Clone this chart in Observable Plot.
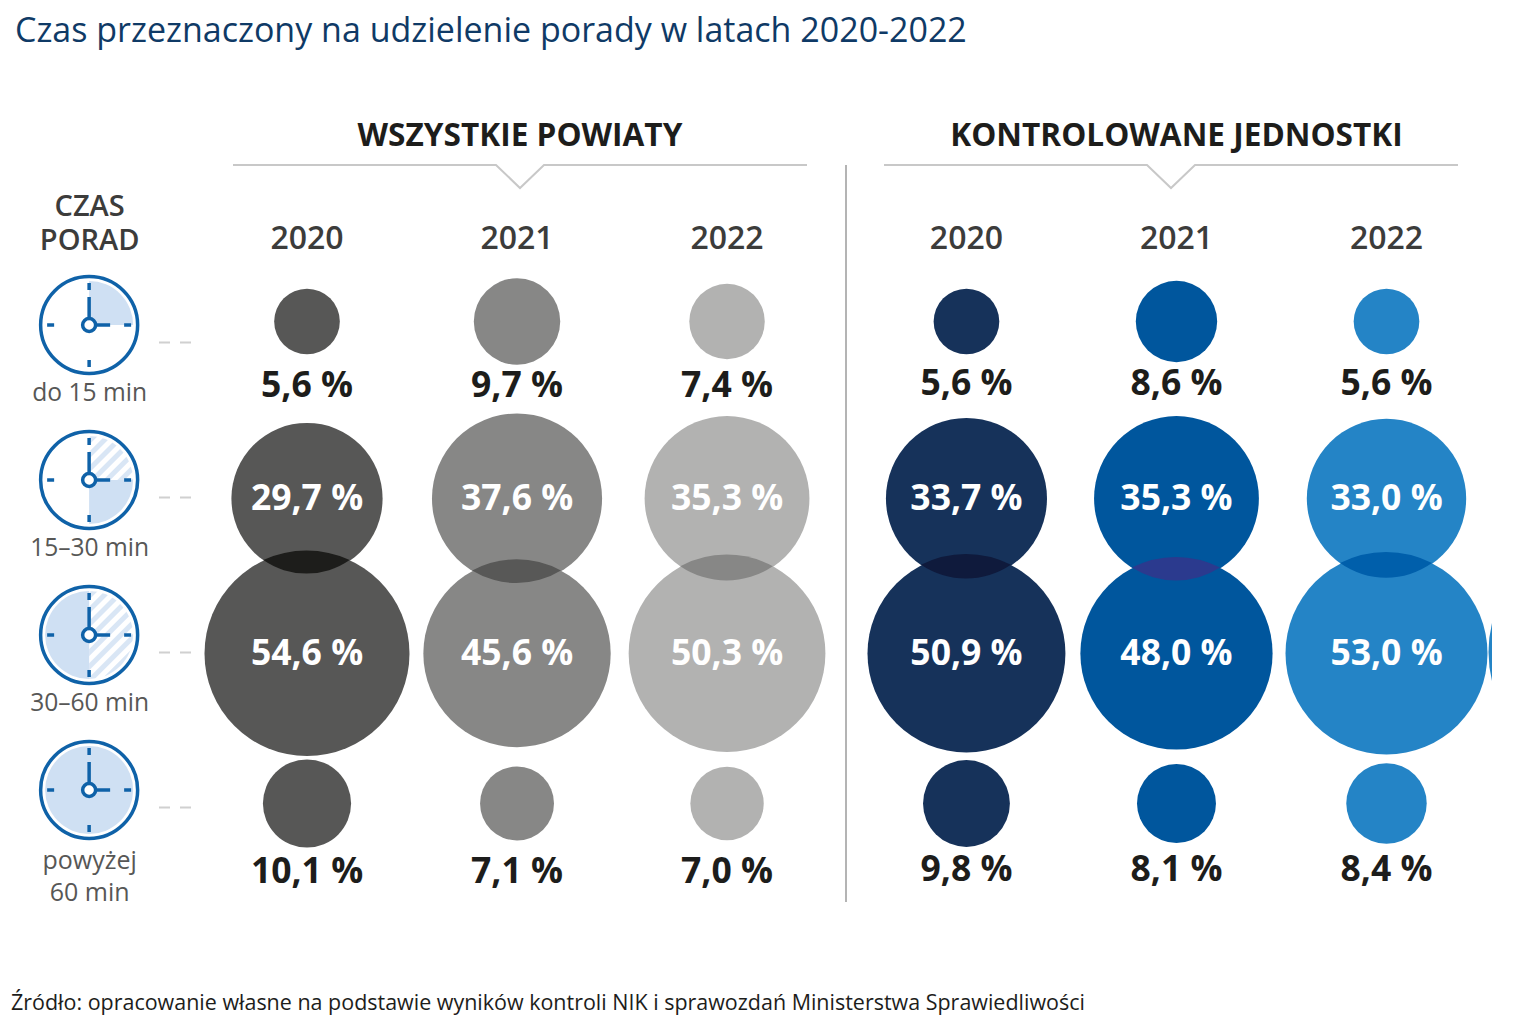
<!DOCTYPE html>
<html lang="pl">
<head>
<meta charset="utf-8">
<script src="https://cdn.jsdelivr.net/npm/d3@7"></script>
<script src="https://cdn.jsdelivr.net/npm/@observablehq/plot@0.6"></script>
<style>
  html, body { margin: 0; padding: 0; background: #fff; overflow: hidden; }
  #title { height: 60px; box-sizing: border-box; padding: 6px 0 0 15px; font: 400 34px "Open Sans", sans-serif; color: #0f3a66; white-space: nowrap; line-height: 46px; }
  #chart svg { display: block; }
  #caption { padding: 0 0 0 11px; font: 400 21.48px "Open Sans", sans-serif; color: #1d1d1b; line-height: 34px; white-space: nowrap; }
</style>
</head>
<body>
<div id="title">Czas przeznaczony na udzielenie porady w latach 2020-2022</div>
<div id="chart"></div>
<div id="caption">Źródło: opracowanie własne na podstawie wyników kontroli NIK i sprawozdań Ministerstwa Sprawiedliwości</div>
<script>
const rows = ["do 15 min", "15–30 min", "30–60 min", "powyżej\n60 min"];
const years = ["2020", "2021", "2022"];
const groups = ["WSZYSTKIE POWIATY", "KONTROLOWANE JEDNOSTKI"];

const powiaty2020 = [5.6, 29.7, 54.6, 10.1];
const powiaty2021 = [9.7, 37.6, 45.6, 7.1];
const powiaty2022 = [7.4, 35.3, 50.3, 7.0];
const jednostki2020 = [5.6, 33.7, 50.9, 9.8];
const jednostki2021 = [8.6, 35.3, 48.0, 8.1];
const jednostki2022 = [5.6, 33.0, 53.0, 8.4];

const seriesValues = [powiaty2020, powiaty2021, powiaty2022, jednostki2020, jednostki2021, jednostki2022];
const columnColors = ["#575756", "#878786", "#b2b2b1", "#16325a", "#00569d", "#2484c6"];
const overlapColors = ["#1d1d1b", "#585857", "#878786", "#0f1a3c", "#2b3a8e", "#005fab"];

// Layout: x is "column units" (one year step), the second group starts after a wider gap.
const groupStart = [0, 3.14];
const leftColumn = -1.035;
const rowShift = [-22, 0, 0, -5];
const labelShift = [[42.5, 0, 0, 63], [40.5, 0, 0, 61]];

const columns = groups.flatMap((g, gi) => years.map((y, yi) => ({group: g, gi, year: y, col: groupStart[gi] + yi})));
const data = columns.flatMap((c, ci) => rows.map((row, ri) => ({
  ...c, ci, row, ri, value: seriesValues[ci][ri],
  label: seriesValues[ci][ri].toFixed(1).replace(".", ",") + " %"
})));

const OFFSET = 60;
const sans = "Open Sans, sans-serif";

function decorations(index, scales) {
  const {x, y} = scales;
  const g = d3.create("svg:g");
  const defs = g.append("defs");
  const pat = defs.append("pattern").attr("id", "hatch").attr("patternUnits", "userSpaceOnUse")
    .attr("width", 10).attr("height", 10).attr("patternTransform", "rotate(-45)");
  pat.append("rect").attr("width", 10).attr("height", 10).attr("fill", "#ffffff");
  pat.append("rect").attr("width", 10).attr("height", 5).attr("fill", "#d9e6f5");

  // Group brackets
  const bracketSpan = 287, notch = 24, by = 165 - OFFSET;
  [520, 1171].forEach(c => {
    g.append("polyline")
      .attr("fill", "none").attr("stroke", "#c8c8c8").attr("stroke-width", 2)
      .attr("points", [[c - bracketSpan, by], [c - notch, by], [c, by + notch - 1], [c + notch, by], [c + bracketSpan, by]].join(" "));
  });
  // Separator
  g.append("line").attr("x1", 846).attr("x2", 846).attr("y1", 165 - OFFSET).attr("y2", 902 - OFFSET)
    .attr("stroke", "#b4b4b4").attr("stroke-width", 2);

  // Clocks
  const cx = x(leftColumn);
  const arc = d3.arc().innerRadius(0).outerRadius(44);
  const wedges = [
    [[0, 90, "#cfe0f3"]],
    [[0, 90, "url(#hatch)"], [90, 180, "#cfe0f3"]],
    [[0, 180, "url(#hatch)"], [180, 360, "#cfe0f3"]],
    [[0, 360, "#cfe0f3"]]
  ];
  rows.forEach((row, i) => {
    const cy = y(row) - 18;
    const c = g.append("g").attr("transform", `translate(${cx},${cy})`);
    c.append("circle").attr("r", 48.5).attr("fill", "#fff");
    wedges[i].forEach(([a, b, fill]) => {
      c.append("path").attr("d", arc({startAngle: a * Math.PI / 180, endAngle: b * Math.PI / 180})).attr("fill", fill);
    });
    c.append("circle").attr("r", 48.5).attr("fill", "none").attr("stroke", "#0f62a8").attr("stroke-width", 3.5);
    [0, 90, 180, 270].forEach(a => {
      c.append("line").attr("y1", -42).attr("y2", -35).attr("transform", `rotate(${a})`)
        .attr("stroke", "#0f62a8").attr("stroke-width", 3.5);
    });
    c.append("line").attr("y1", 0).attr("y2", -28).attr("stroke", "#0f62a8").attr("stroke-width", 3.5);
    c.append("line").attr("x1", 0).attr("x2", 21).attr("stroke", "#0f62a8").attr("stroke-width", 3.5);
    c.append("circle").attr("r", 6.5).attr("fill", "#fff").attr("stroke", "#0f62a8").attr("stroke-width", 3.5);
    // leader dashes
    g.append("line").attr("x1", 159).attr("x2", 191).attr("y1", y(row) - 0.5).attr("y2", y(row) - 0.5)
      .attr("stroke", "#d0d0d0").attr("stroke-width", 2).attr("stroke-dasharray", "11 10");
  });

  // Clipped edge of a circle at the reference's right border
  g.append("path").attr("d", `M1492,${623 - OFFSET} Q1485,${652 - OFFSET} 1492,${681 - OFFSET} Z`).attr("fill", "#2484c6");
  return g.node();
}

function overlaps(index, scales) {
  const {x, y, r} = scales;
  const g = d3.create("svg:g");
  columns.forEach((c, ci) => {
    const vals = seriesValues[ci];
    const x0 = x(c.col), y2 = y(rows[1]) + rowShift[1], y3 = y(rows[2]) + rowShift[2];
    const r2 = r(vals[1]), r3 = r(vals[2]), d = y3 - y2;
    const a = (d * d + r2 * r2 - r3 * r3) / (2 * d);
    const h = Math.sqrt(r2 * r2 - a * a);
    g.append("path")
      .attr("d", `M${x0 - h},${y2 + a} A${r3},${r3} 0 0 1 ${x0 + h},${y2 + a} A${r2},${r2} 0 0 1 ${x0 - h},${y2 + a} Z`)
      .attr("fill", overlapColors[ci]);
  });
  return g.node();
}

const bold = {fontFamily: sans, fontWeight: 700};
const semi = {fontFamily: sans, fontWeight: 600};
const reg = {fontFamily: sans};
const outer = data.filter(d => d.ri === 0 || d.ri === 3);
const inner = data.filter(d => d.ri === 1 || d.ri === 2);
const topAnchor = {frameAnchor: "top", lineAnchor: "middle"};

const plot = Plot.plot({
  width: 1520,
  height: 925,
  margin: 0,
  style: {background: "transparent"},
  x: {type: "linear", domain: [0, groupStart[1] + 2], range: [306.5, 1386], axis: null},
  y: {type: "point", padding: 0, domain: rows, range: [341.5 - OFFSET, 809 - OFFSET], axis: null},
  r: {type: "sqrt", domain: [0, 54.6], range: [0, 102.5]},
  marks: [
    decorations,
    ...rows.map((row, ri) => Plot.dot(data.filter(d => d.ri === ri), {
      x: "col", y: "row", r: "value", fill: d => columnColors[d.ci], dy: rowShift[ri]
    })),
    overlaps,
    // Values outside circles
    ...[0, 1].flatMap(gi => [0, 3].map(ri => Plot.text(outer.filter(d => d.gi === gi && d.ri === ri), {
      x: "col", y: "row", text: "label", dy: labelShift[gi][ri], fill: "#1d1d1b", fontSize: 35.5, ...bold
    }))),
    // Values inside circles
    Plot.text(inner, {x: "col", y: "row", text: "label", fill: "#fff", fontSize: 35.5, ...bold}),
    // Year headers
    Plot.text(columns, {x: "col", text: "year", ...topAnchor, dy: 238 - OFFSET, fill: "#3c3c3b", fontSize: 32, ...semi}),
    // Group headers
    Plot.text(groups, {x: (d, i) => groupStart[i] + (i === 0 ? 1.014 : 1.0), text: d => d, ...topAnchor, dy: 135 - OFFSET, fill: "#1d1d1b", fontSize: 31.6, ...bold}),
    // Left column
    Plot.text(["CZAS\nPORAD"], {x: () => leftColumn, text: d => d, ...topAnchor, dy: 221.5 - OFFSET, lineHeight: 34 / 29, fill: "#3c3c3b", fontSize: 29, ...semi}),
    Plot.text(rows.slice(0, 3), {x: () => leftColumn, y: d => d, text: d => d, dy: 49.5, fill: "#575756", fontSize: 24.6, ...reg}),
    Plot.text([rows[3]], {x: () => leftColumn, y: d => d, text: d => d, dy: 66, lineHeight: 32 / 25, fill: "#575756", fontSize: 25, ...reg})
  ]
});
document.getElementById("chart").append(plot);
</script>
</body>
</html>
